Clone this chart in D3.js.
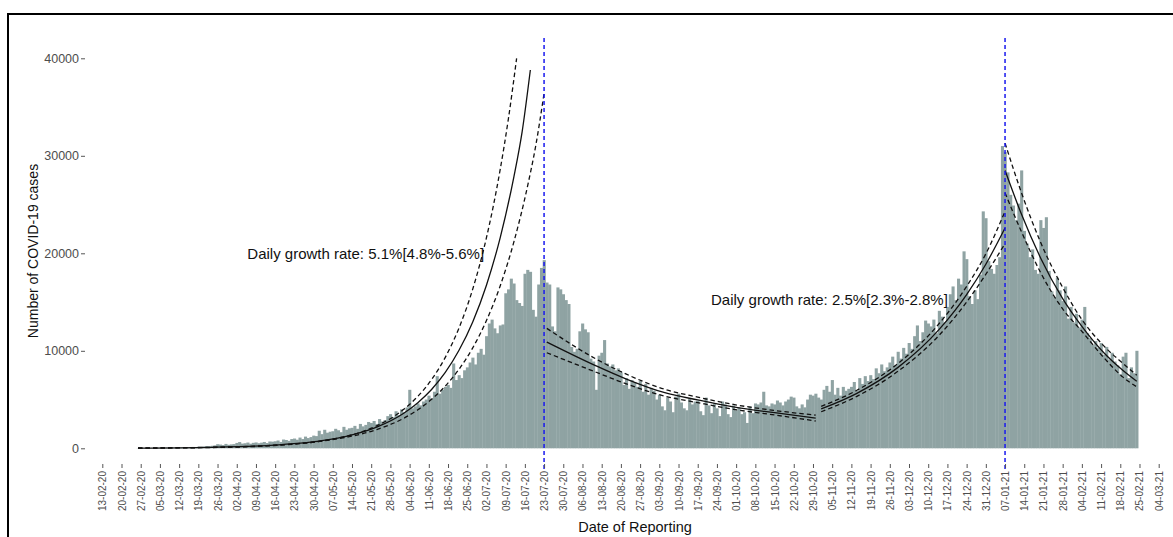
<!DOCTYPE html>
<html>
<head>
<meta charset="utf-8">
<script src="https://cdnjs.cloudflare.com/ajax/libs/d3/7.8.5/d3.min.js"></script>
<style>
    body { margin: 0; background: #fff; }
    svg { display: block; font-family: "Liberation Sans", Arial, sans-serif; }
</style>
</head>
<body>
<script>
//daily reported cases, one value per day starting on firstDay
var firstDay = "26-02-20";
var dailyCases = [
    20,
    10, 25, 15, 30, 20, 35, 40,
    45, 30, 60, 50, 70, 55, 80,
    75, 90, 110, 85, 120, 140, 130,
    160, 150, 190, 230, 210, 260, 300,
    420, 380, 330, 450, 360, 400, 430,
    550, 640, 480, 520, 590, 470, 560,
    600, 520, 580, 650, 540, 700, 680,
    720, 800, 650, 900, 850, 760, 950,
    1000, 880, 1100, 950, 1200, 1050, 1150,
    1300, 1250, 1800, 1450, 1900, 1600, 1700,
    1750, 2000, 1850, 1650, 2200, 1900, 2050,
    2100, 2300, 2000, 2500, 2250, 2400, 2700,
    2600, 2800, 2500, 3000, 2750, 2900, 3300,
    3500, 3200, 3800, 3400, 4000, 3700, 4200,
    6000, 4100, 4300, 4600, 4400, 4800, 5000,
    5400, 5100, 5800, 7400, 5600, 6000, 6300,
    6500, 6200, 8700, 7000, 7500, 7200, 8000,
    8300, 8800, 9300, 8600, 9800, 10200, 9600,
    11500, 12800, 13200, 12300, 11800, 12600, 12700,
    15900, 16300, 17400, 16900, 15200, 14900, 14600,
    17900, 18300, 18100, 14200, 13500, 16800, 18500,
    19300, 17000, 16800, 12500, 12000, 16500, 16300,
    15800, 15200, 14800, 10400, 9900, 10200, 12000,
    12800, 12200, 11900, 9200, 8900, 6000, 9500,
    9800, 11100, 8700, 8400, 8600, 8000, 8200,
    7800, 6500, 7200, 6100, 7000, 6800, 6300,
    6900, 5800, 6600, 5500, 6200, 5900, 5000,
    5500, 4300, 3900, 5200, 4800, 3700, 5300,
    5600, 4700, 4100, 3900, 5100, 4500, 4800,
    4900, 3800, 3400, 5200, 4400, 3600, 4600,
    4100, 3300, 4800, 4500, 3500, 3200, 4400,
    3900, 4200, 3500, 3700, 2600, 4300, 3600,
    4600, 4500, 4700, 5800, 4400, 4300, 4600,
    4500, 4900, 4700, 4400, 4800, 5000, 5300,
    5200, 4300, 4100, 4500, 4200, 5000, 5500,
    5400, 5600, 5200, 5000, 6000, 6400, 5800,
    7000, 5500, 6200, 5400, 6300, 5900, 6100,
    6300, 6800, 5900, 7200, 6600, 7400, 6900,
    7500, 7100, 8200, 7700, 8600, 7900, 8300,
    8800, 9400, 8500, 9900, 9200, 10300, 9700,
    10800, 10200, 11500, 12600, 11000, 11900, 13100,
    12800, 12500, 13200, 11800, 14100, 13500, 12900,
    14500, 15800, 16600, 15200, 17400, 16800, 20200,
    19400, 15600, 14800, 16200, 15300, 17800, 24300,
    23600, 19200, 18400, 17900, 18800, 19600, 31000,
    30400, 28300, 26000, 24900, 23400, 25100, 28500,
    22300, 21000, 19600, 20400, 18300, 17900, 23400,
    22600, 23700, 18200, 16100, 15500, 17500, 16200,
    15100, 16600, 13300, 14500, 12900, 13800, 12400,
    13200, 14500, 11800, 11300, 10600, 11000, 10300,
    10800, 9600, 10400, 9100, 9800, 8900, 8500,
    7600, 9400, 9800, 7200, 8300, 7700, 10000
];

//fitted exponential curves [date, cases]
var fit1Mid = [["26-02-20", 26], ["24-03-20", 102], ["13-04-20", 283], ["03-05-20", 785], ["13-05-20", 1306],
    ["23-05-20", 2170], ["02-06-20", 3620], ["07-06-20", 4680], ["12-06-20", 6030], ["17-06-20", 7780],
    ["22-06-20", 10050], ["27-06-20", 12960], ["02-07-20", 16730], ["07-07-20", 21590], ["12-07-20", 27850],
    ["15-07-20", 32460], ["18-07-20", 38800]];
var fit1Upper = [["26-02-20", 18], ["24-03-20", 80], ["13-04-20", 245], ["03-05-20", 750], ["13-05-20", 1315],
    ["23-05-20", 2300], ["02-06-20", 4030], ["07-06-20", 5330], ["12-06-20", 7050], ["17-06-20", 9330],
    ["22-06-20", 12340], ["27-06-20", 16330], ["02-07-20", 21600], ["07-07-20", 28580], ["10-07-20", 33800],
    ["13-07-20", 40000]];
var fit1Lower = [["26-02-20", 30], ["24-03-20", 108], ["13-04-20", 281], ["03-05-20", 735], ["13-05-20", 1190],
    ["23-05-20", 1920], ["02-06-20", 3100], ["07-06-20", 3950], ["12-06-20", 5020], ["17-06-20", 6380],
    ["22-06-20", 8110], ["27-06-20", 10300], ["02-07-20", 13100], ["07-07-20", 16650], ["12-07-20", 21170],
    ["17-07-20", 26910], ["20-07-20", 31090], ["23-07-20", 36400]];

var fit2Mid = [["24-07-20", 10900], ["11-08-20", 8450], ["22-08-20", 7100], ["05-09-20", 5700],
    ["17-09-20", 4960], ["30-09-20", 4250], ["15-10-20", 3650], ["30-10-20", 3100]];
var fit2Upper = [["24-07-20", 12300], ["11-08-20", 9150], ["22-08-20", 7600], ["05-09-20", 6050],
    ["17-09-20", 5250], ["30-09-20", 4500], ["15-10-20", 3880], ["30-10-20", 3400]];
var fit2Lower = [["24-07-20", 9800], ["11-08-20", 7800], ["22-08-20", 6600], ["05-09-20", 5350],
    ["17-09-20", 4680], ["30-09-20", 4000], ["15-10-20", 3420], ["30-10-20", 2800]];

var fit3Mid = [["01-11-20", 4040], ["14-11-20", 5640], ["29-11-20", 8300], ["14-12-20", 12200],
    ["24-12-20", 15770], ["31-12-20", 18880], ["07-01-21", 22600]];
var fit3Upper = [["01-11-20", 4300], ["14-11-20", 5950], ["29-11-20", 8700], ["14-12-20", 12800],
    ["24-12-20", 16600], ["31-12-20", 19950], ["07-01-21", 24300]];
var fit3Lower = [["01-11-20", 3750], ["14-11-20", 5330], ["29-11-20", 7900], ["14-12-20", 11600],
    ["24-12-20", 15000], ["31-12-20", 17850], ["07-01-21", 21000]];

var fit4Mid = [["07-01-21", 28500], ["13-01-21", 24000], ["20-01-21", 19500], ["28-01-21", 15350],
    ["04-02-21", 12500], ["12-02-21", 9800], ["19-02-21", 7980], ["24-02-21", 6880]];
var fit4Upper = [["07-01-21", 31300], ["13-01-21", 26200], ["20-01-21", 21100], ["28-01-21", 16500],
    ["04-02-21", 13200], ["12-02-21", 10500], ["19-02-21", 8700], ["24-02-21", 7500]];
var fit4Lower = [["07-01-21", 26200], ["13-01-21", 22200], ["20-01-21", 18000], ["28-01-21", 14300],
    ["04-02-21", 12000], ["12-02-21", 9300], ["19-02-21", 7300], ["24-02-21", 6300]];

//breakpoints and annotations
var breakDates = ["23-07-20", "07-01-21"];
var growthLabels = [
    {text: "Daily growth rate: 5.1%[4.8%-5.6%]", date: "19-05-20", value: 20000},
    {text: "Daily growth rate: 2.5%[2.3%-2.8%]", date: "04-11-20", value: 15200}
];

//axis ticks
var yTicks = [0, 10000, 20000, 30000, 40000];
var xTickLabels = ["13-02-20", "20-02-20", "27-02-20", "05-03-20", "12-03-20", "19-03-20", "26-03-20",
    "02-04-20", "09-04-20", "16-04-20", "23-04-20", "30-04-20", "07-05-20", "14-05-20", "21-05-20",
    "28-05-20", "04-06-20", "11-06-20", "18-06-20", "25-06-20", "02-07-20", "09-07-20", "16-07-20",
    "23-07-20", "30-07-20", "06-08-20", "13-08-20", "20-08-20", "27-08-20", "03-09-20", "10-09-20",
    "17-09-20", "24-09-20", "01-10-20", "08-10-20", "15-10-20", "22-10-20", "29-10-20", "05-11-20",
    "12-11-20", "19-11-20", "26-11-20", "03-12-20", "10-12-20", "17-12-20", "24-12-20", "31-12-20",
    "07-01-21", "14-01-21", "21-01-21", "28-01-21", "04-02-21", "11-02-21", "18-02-21", "25-02-21",
    "04-03-21", "11-03-21"];

var parse = d3.utcParse("%d-%m-%y");

//frame dimensions
var width = 1173,
    height = 537;

var svg = d3.select("body")
    .append("svg")
    .attr("width", width)
    .attr("height", height);

svg.append("rect")
    .attr("width", width)
    .attr("height", height)
    .attr("fill", "#fff");

//panel edges
var panelLeft = 85,
    panelTop = 38,
    panelBottom = 464;

var x = d3.scaleTime()
    .domain([parse("13-02-20"), parse("04-03-21")])
    .range([102.3, 1158.7]);

var y = d3.scaleLinear()
    .domain([0, 40000])
    .range([448.3, 58.3]);

var dayW = x(parse("14-02-20")) - x(parse("13-02-20"));

//bars
var start = parse(firstDay);
var bars = dailyCases.map(function(v, i){
    return {date: d3.utcDay.offset(start, i), value: v};
});

svg.append("g")
    .selectAll("rect")
    .data(bars)
    .enter()
    .append("rect")
    .attr("x", function(d){ return x(d.date) - dayW / 2; })
    .attr("y", function(d){ return y(d.value); })
    .attr("width", dayW + 0.35)
    .attr("height", function(d){ return y(0) - y(d.value); })
    .attr("fill", "#8fa3a3");

//fitted lines
var line = d3.line()
    .x(function(d){ return x(parse(d[0])); })
    .y(function(d){ return y(d[1]); })
    .curve(d3.curveMonotoneX);

var fits = [
    [fit1Mid, false], [fit1Upper, true], [fit1Lower, true],
    [fit2Mid, false], [fit2Upper, true], [fit2Lower, true],
    [fit3Mid, false], [fit3Upper, true], [fit3Lower, true],
    [fit4Mid, false], [fit4Upper, true], [fit4Lower, true]
];

svg.append("g")
    .selectAll("path")
    .data(fits)
    .enter()
    .append("path")
    .attr("d", function(d){ return line(d[0]); })
    .attr("fill", "none")
    .attr("stroke", "#111")
    .attr("stroke-width", 1.3)
    .attr("stroke-dasharray", function(d){ return d[1] ? "4.5,3" : null; });

//breakpoint lines
svg.append("g")
    .selectAll("line")
    .data(breakDates)
    .enter()
    .append("line")
    .attr("x1", function(d){ return x(parse(d)); })
    .attr("x2", function(d){ return x(parse(d)); })
    .attr("y1", panelTop)
    .attr("y2", 471)
    .attr("stroke", "#1a1aee")
    .attr("stroke-width", 1.5)
    .attr("stroke-dasharray", "4,3");

//growth rate labels
svg.append("g")
    .selectAll("text")
    .data(growthLabels)
    .enter()
    .append("text")
    .attr("x", function(d){ return x(parse(d.date)); })
    .attr("y", function(d){ return y(d.value); })
    .attr("dy", "0.35em")
    .attr("text-anchor", "middle")
    .attr("font-size", 15)
    .attr("fill", "#111")
    .text(function(d){ return d.text; });

//y axis
var yAxis = svg.append("g")
    .attr("transform", "translate(" + panelLeft + ",0)")
    .call(d3.axisLeft(y).tickValues(yTicks).tickSize(4).tickPadding(2).tickFormat(d3.format("d")));
yAxis.select(".domain").remove();
yAxis.selectAll(".tick line").attr("stroke", "#555");
yAxis.selectAll("text")
    .attr("font-size", 12.5)
    .attr("font-family", "Liberation Sans, Arial, sans-serif")
    .attr("fill", "#4d4d4d");

//x axis with rotated date labels
var xAxis = svg.append("g")
    .attr("transform", "translate(0," + panelBottom + ")")
    .call(d3.axisBottom(x).tickValues(xTickLabels.map(parse)).tickSize(4).tickFormat(d3.utcFormat("%d-%m-%y")));
xAxis.select(".domain").remove();
xAxis.selectAll(".tick line").attr("stroke", "#555");
xAxis.selectAll("text")
    .attr("transform", "rotate(-90)")
    .attr("x", -7)
    .attr("y", 0)
    .attr("dy", "0.35em")
    .attr("text-anchor", "end")
    .attr("font-size", 10)
    .attr("font-family", "Liberation Sans, Arial, sans-serif")
    .attr("fill", "#4d4d4d");

//axis titles
svg.append("text")
    .attr("transform", "translate(33," + ((panelTop + panelBottom) / 2) + ") rotate(-90)")
    .attr("dy", "0.35em")
    .attr("text-anchor", "middle")
    .attr("font-size", 14)
    .attr("fill", "#111")
    .text("Number of COVID-19 cases");

svg.append("text")
    .attr("x", 635)
    .attr("y", 532)
    .attr("text-anchor", "middle")
    .attr("font-size", 14.5)
    .attr("fill", "#111")
    .text("Date of Reporting");

//outer frame (top and left edges visible)
svg.append("path")
    .attr("d", "M8,537V14H1173")
    .attr("fill", "none")
    .attr("stroke", "#000")
    .attr("stroke-width", 2);
</script>
</body>
</html>
